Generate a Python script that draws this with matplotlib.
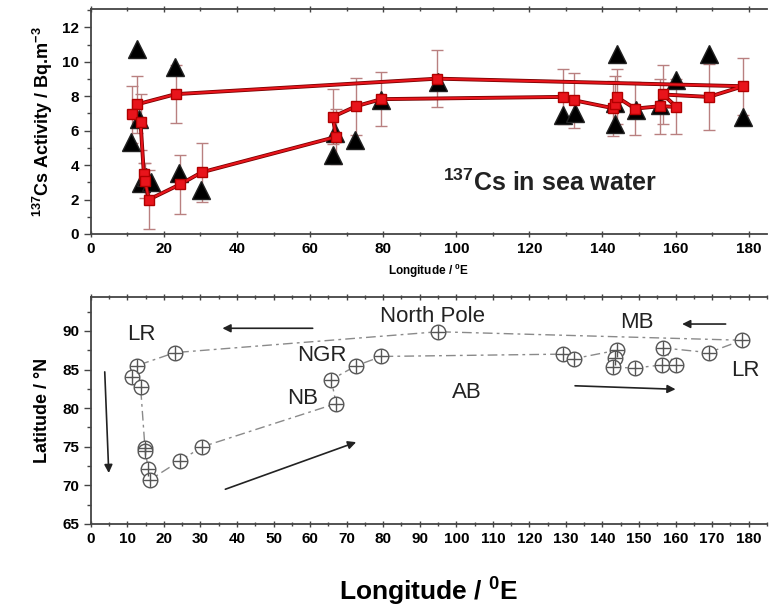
import numpy as np
import matplotlib
matplotlib.use("Agg")
import matplotlib.pyplot as plt
from matplotlib.ticker import MultipleLocator

plt.rcParams["font.family"] = ["Liberation Sans", "DejaVu Sans"]
plt.rcParams["mathtext.fontset"] = "custom"
plt.rcParams["mathtext.rm"] = "Liberation Sans:bold"
plt.rcParams["mathtext.bf"] = "Liberation Sans:bold"
plt.rcParams["mathtext.default"] = "bf"

# ---------------------------------------------------------------------------
# Data
# ---------------------------------------------------------------------------

# 137Cs activity along the cruise track (red squares, loop order from North Pole)
lon_red = [94.8, 23.2, 12.5, 11.2, 13.6, 14.5, 14.8, 15.9, 24.4, 30.3, 67.1,
           66.2, 72.6, 79.5, 129.1, 132.1, 143.0, 143.5, 143.9, 148.9, 155.8,
           160.2, 156.6, 169.1, 178.5]
cs_red = [9.02, 8.12, 7.52, 6.95, 6.5, 3.5, 3.1, 2.0, 2.88, 3.58, 5.64,
          6.8, 7.42, 7.83, 7.96, 7.77, 7.3, 7.57, 7.96, 7.28, 7.42,
          7.38, 8.1, 7.96, 8.58]
err_red = [1.65, 1.7, 1.65, 1.65, 1.6, 0.6, 1.0, 1.7, 1.7, 1.7, 1.6,
           1.6, 1.65, 1.55, 1.6, 1.6, 1.6, 1.6, 1.6, 1.55, 1.6,
           1.6, 1.7, 1.9, 1.66]

# second data set (black triangles)
lon_tri = [12.5, 23.0, 13.2, 11.1, 13.6, 15.0, 16.4, 24.1, 30.1, 66.2, 66.7,
           72.2, 79.5, 95.0, 129.3, 132.5, 143.9, 143.5, 143.3, 149.2, 155.8,
           160.2, 169.1, 178.5]
cs_tri = [10.77, 9.7, 6.7, 5.35, 2.94, 3.3, 3.03, 3.52, 2.55, 4.58, 5.84,
          5.45, 7.77, 8.83, 6.9, 7.0, 10.47, 7.58, 6.36, 7.19, 7.48,
          8.93, 10.47, 6.8]

# station positions (loop order from North Pole)
lon_st = [95.0, 23.0, 12.5, 11.2, 13.6, 14.8, 14.9, 15.7, 16.1, 24.4, 30.5,
          67.1, 65.8, 72.6, 79.5, 129.1, 132.1, 143.9, 143.5, 143.0, 148.9,
          156.3, 160.0, 156.6, 169.1, 178.2]
lat_st = [89.9, 87.2, 85.5, 84.0, 82.8, 74.9, 74.5, 72.1, 70.7, 73.2, 75.0,
          80.6, 83.7, 85.5, 86.7, 87.0, 86.4, 87.5, 86.5, 85.3, 85.2,
          85.6, 85.6, 87.8, 87.2, 88.8]

# region labels and route arrows
region_names = ["LR", "NGR", "NB", "North Pole", "MB", "LR", "AB"]
region_lon = [13.9, 63.3, 58.0, 93.6, 149.4, 179.2, 103.0]
region_lat = [89.5, 86.8, 81.3, 91.9, 91.1, 84.9, 82.0]

arrow_start = [(60.7, 90.35), (3.8, 84.7), (36.8, 69.5), (132.5, 82.9), (173.7, 90.9)]
arrow_end = [(36.0, 90.35), (4.9, 71.6), (72.6, 75.6), (160.0, 82.45), (161.8, 90.9)]

# ---------------------------------------------------------------------------

fig = plt.figure(figsize=(7.7, 6.09), dpi=100)
ax1 = fig.add_axes([0.118, 0.6158, 0.878, 0.369])
ax2 = fig.add_axes([0.118, 0.1396, 0.878, 0.3727])

spine_col = "#444444"


def style_axes(ax):
    for side in ("left", "bottom", "top"):
        ax.spines[side].set_color(spine_col)
        ax.spines[side].set_linewidth(1.3)
    ax.spines["right"].set_visible(False)
    ax.tick_params(which="both", direction="out", color=spine_col, width=1.0)
    ax.tick_params(which="major", length=5)
    ax.tick_params(which="minor", length=3)
    ax.tick_params(axis="x", which="both", top=True)
    ax.tick_params(axis="x", which="both", direction="inout")
    for lab in ax.get_xticklabels() + ax.get_yticklabels():
        lab.set_fontweight("bold")


# --- top panel -------------------------------------------------------------
x_loop = np.append(lon_red, lon_red[0])
y_loop = np.append(cs_red, cs_red[0])
ax1.plot(x_loop, y_loop, color="#7a0000", lw=2.8, zorder=3)
ax1.plot(x_loop, y_loop, color="#e8141b", lw=1.6, zorder=3.1)
ax1.plot(lon_tri, cs_tri, linestyle="none", marker="^", ms=13.5,
         mfc="black", mec="#222222", zorder=2)
ax1.errorbar(lon_red, cs_red, yerr=err_red, fmt="none", ecolor="#b98080",
             elinewidth=1.0, capsize=4, capthick=1.0, zorder=1.5)
ax1.plot(lon_red, cs_red, linestyle="none", marker="s", ms=6.5,
         mfc="#e8141b", mec="#b00000", zorder=4)

ax1.set_xlim(0, 185)
ax1.set_ylim(0, 13.05)
ax1.xaxis.set_major_locator(MultipleLocator(20))
ax1.xaxis.set_minor_locator(MultipleLocator(10))
ax1.yaxis.set_major_locator(MultipleLocator(2))
ax1.yaxis.set_minor_locator(MultipleLocator(1))
ax1.tick_params(labelsize=11)
style_axes(ax1)
ax1.set_xlabel(r"Longitude / $^0$E", fontsize=8.5, fontweight="bold", labelpad=4)
ax1.set_ylabel(r"$^{137}$Cs Activity / Bq.m$^{-3}$", fontsize=13,
               fontweight="bold", labelpad=5)
ax1.text(125.6, 2.96, r"$^{137}$Cs in sea water", fontsize=18,
         fontweight="bold", ha="center", va="center", color="#222222")

# --- bottom panel ----------------------------------------------------------
xs = np.append(lon_st, lon_st[0])
ys = np.append(lat_st, lat_st[0])
ax2.plot(xs, ys, color="#8a8a8a", lw=1.0, linestyle=(0, (7, 3, 2, 3)), zorder=1)
ax2.plot(lon_st, lat_st, linestyle="none", marker="o", ms=10.5,
         mfc="white", mec="#555555", mew=1.0, zorder=2)
ax2.plot(lon_st, lat_st, linestyle="none", marker="+", ms=10.5,
         mec="#555555", mew=1.0, zorder=3)

for name, x, y in zip(region_names, region_lon, region_lat):
    ax2.text(x, y, name, fontsize=16, ha="center", va="center", color="#222222")

for (x0, y0), (x1, y1) in zip(arrow_start, arrow_end):
    ax2.annotate("", xy=(x1, y1), xytext=(x0, y0),
                 arrowprops=dict(arrowstyle="-|>", lw=1.2, color="#222222",
                                 mutation_scale=12, shrinkA=0, shrinkB=0))

ax2.set_xlim(0, 185)
ax2.set_ylim(65, 94.4)
ax2.xaxis.set_major_locator(MultipleLocator(10))
ax2.xaxis.set_minor_locator(MultipleLocator(5))
ax2.yaxis.set_major_locator(MultipleLocator(5))
ax2.yaxis.set_minor_locator(MultipleLocator(2.5))
ax2.tick_params(labelsize=11)
style_axes(ax2)
ax2.set_xlabel(r"Longitude / $^0$E", fontsize=19, fontweight="bold", labelpad=21)
ax2.set_ylabel("Latitude / °N", fontsize=13, fontweight="bold", labelpad=8)

fig.savefig("out.png", dpi=100)
